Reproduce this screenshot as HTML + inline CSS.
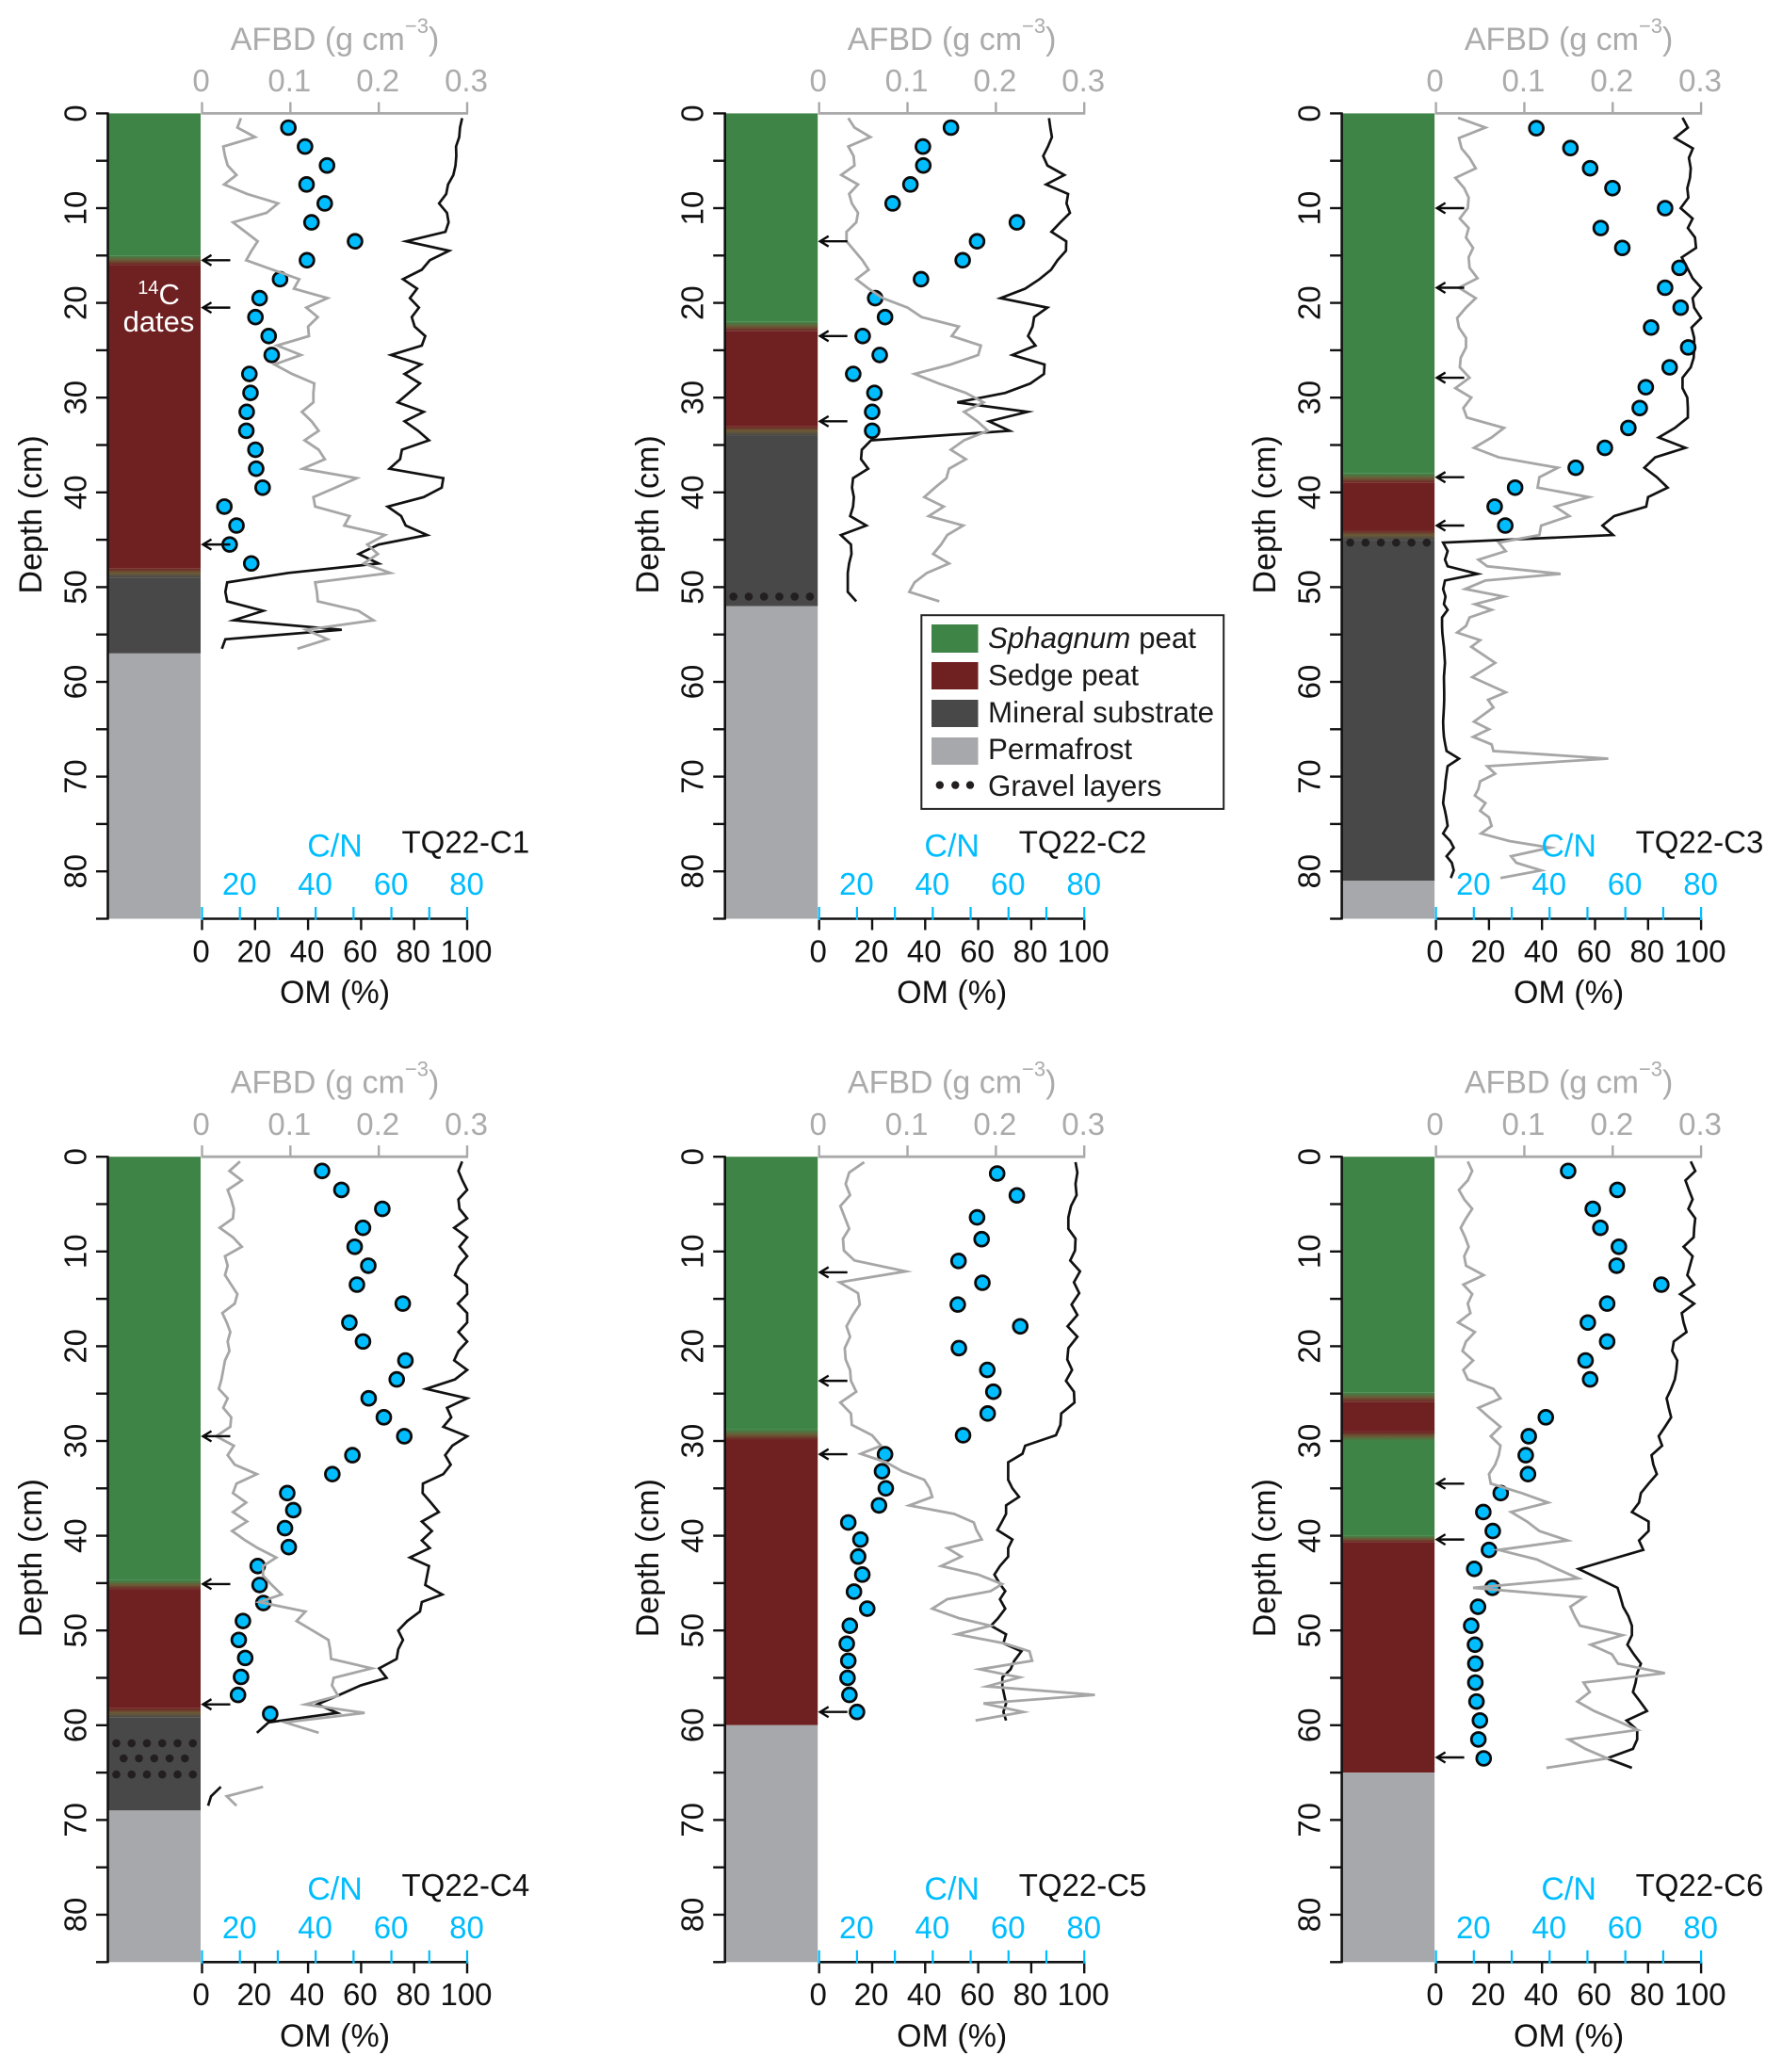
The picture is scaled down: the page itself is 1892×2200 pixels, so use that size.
<!DOCTYPE html>
<html lang="en">
<head>
<meta charset="utf-8">
<title>Peat core profiles TQ22-C1 to TQ22-C6</title>
<style>
html,body{margin:0;padding:0;background:#fff;}
svg{display:block;font-family:"Liberation Sans",sans-serif;font-size:33px;}
.afbd-title{fill:#ababab;text-anchor:middle;font-size:34px;}
.cn-title{fill:#00bdff;text-anchor:middle;font-size:34px;}
.om-title{fill:#111;text-anchor:middle;font-size:34px;}
.depth-title{fill:#111;text-anchor:middle;font-size:34px;}
.core-name{fill:#111;}
.legend-text{font-size:31.3px;fill:#1a1a1a;}
</style>
</head>
<body>
<svg id="chart" width="1892" height="2200" viewBox="0 0 1892 2200" xmlns="http://www.w3.org/2000/svg">
  <g id="panel-c1" transform="translate(214.5,120.4)">
    <g class="marks"></g>
    <text class="afbd-title" x="141" y="-67.5">AFBD (g cm<tspan dy="-18" font-size="22">−3</tspan><tspan dy="18">)</tspan></text>
    <text class="cn-title" x="141" y="789">C/N</text>
    <text class="core-name" x="212" y="785">TQ22-C1</text>
    <text class="om-title" x="141" y="944.6">OM (%)</text>
    <text class="depth-title" transform="translate(-170.5,426) rotate(-90)">Depth (cm)</text>
    <text x="-46" y="202.6" fill="#fff" font-size="31" text-anchor="middle"><tspan font-size="20" dy="-11">14</tspan><tspan dy="11">C</tspan></text>
    <text x="-46" y="231.4" fill="#fff" font-size="31" text-anchor="middle">dates</text>
  </g>
  <g id="panel-c2" transform="translate(869.7,120.4)">
    <g class="marks"></g>
    <text class="afbd-title" x="141" y="-67.5">AFBD (g cm<tspan dy="-18" font-size="22">−3</tspan><tspan dy="18">)</tspan></text>
    <text class="cn-title" x="141" y="789">C/N</text>
    <text class="core-name" x="212" y="785">TQ22-C2</text>
    <text class="om-title" x="141" y="944.6">OM (%)</text>
    <text class="depth-title" transform="translate(-170.5,426) rotate(-90)">Depth (cm)</text>
  </g>
  <g id="panel-c3" transform="translate(1524.6,120.4)">
    <g class="marks"></g>
    <text class="afbd-title" x="141" y="-67.5">AFBD (g cm<tspan dy="-18" font-size="22">−3</tspan><tspan dy="18">)</tspan></text>
    <text class="cn-title" x="141" y="789">C/N</text>
    <text class="core-name" x="212" y="785">TQ22-C3</text>
    <text class="om-title" x="141" y="944.6">OM (%)</text>
    <text class="depth-title" transform="translate(-170.5,426) rotate(-90)">Depth (cm)</text>
  </g>
  <g id="panel-c4" transform="translate(214.5,1228.2)">
    <g class="marks"></g>
    <text class="afbd-title" x="141" y="-67.5">AFBD (g cm<tspan dy="-18" font-size="22">−3</tspan><tspan dy="18">)</tspan></text>
    <text class="cn-title" x="141" y="789">C/N</text>
    <text class="core-name" x="212" y="785">TQ22-C4</text>
    <text class="om-title" x="141" y="944.6">OM (%)</text>
    <text class="depth-title" transform="translate(-170.5,426) rotate(-90)">Depth (cm)</text>
  </g>
  <g id="panel-c5" transform="translate(869.7,1228.2)">
    <g class="marks"></g>
    <text class="afbd-title" x="141" y="-67.5">AFBD (g cm<tspan dy="-18" font-size="22">−3</tspan><tspan dy="18">)</tspan></text>
    <text class="cn-title" x="141" y="789">C/N</text>
    <text class="core-name" x="212" y="785">TQ22-C5</text>
    <text class="om-title" x="141" y="944.6">OM (%)</text>
    <text class="depth-title" transform="translate(-170.5,426) rotate(-90)">Depth (cm)</text>
  </g>
  <g id="panel-c6" transform="translate(1524.6,1228.2)">
    <g class="marks"></g>
    <text class="afbd-title" x="141" y="-67.5">AFBD (g cm<tspan dy="-18" font-size="22">−3</tspan><tspan dy="18">)</tspan></text>
    <text class="cn-title" x="141" y="789">C/N</text>
    <text class="core-name" x="212" y="785">TQ22-C6</text>
    <text class="om-title" x="141" y="944.6">OM (%)</text>
    <text class="depth-title" transform="translate(-170.5,426) rotate(-90)">Depth (cm)</text>
  </g>
  <g id="legend">
    <rect x="978.3" y="653.2" width="320.9" height="205.7" fill="#fff" stroke="#222" stroke-width="2"/>
    <rect x="989" y="663" width="49.5" height="30" fill="#3f8447"/>
    <text class="legend-text" x="1049" y="688"><tspan font-style="italic">Sphagnum</tspan> peat</text>
    <rect x="989" y="703" width="49.5" height="29" fill="#6f2122"/>
    <text class="legend-text" x="1049" y="727.5">Sedge peat</text>
    <rect x="989" y="743" width="49.5" height="29" fill="#484848"/>
    <text class="legend-text" x="1049" y="767">Mineral substrate</text>
    <rect x="989" y="783" width="49.5" height="29" fill="#a7a8ab"/>
    <text class="legend-text" x="1049" y="806">Permafrost</text>
    <circle cx="997.8" cy="833.6" r="4.2" fill="#231f20"/>
    <circle cx="1014.3" cy="833.6" r="4.2" fill="#231f20"/>
    <circle cx="1030" cy="833.6" r="4.2" fill="#231f20"/>
    <text class="legend-text" x="1049" y="845">Gravel layers</text>
  </g>
</svg>
<script>
// ---- axis tick values ----
const depthTicks=[0,5,10,15,20,25,30,35,40,45,50,55,60,65,70,75,80,85];
const depthLabels=[0,10,20,30,40,50,60,70,80];
const omTicks=[0,20,40,60,80,100];
const afbdTicks=[0,0.1,0.2,0.3];
const afbdLabels=['0','0.1','0.2','0.3'];
const cnTicks=[10,20,30,40,50,60,70,80];
const cnLabels=[20,40,60,80];

// ---- TQ22-C1 ----
const c1Depth=[0.5,1.5,2.5,3.5,4.5,5.5,6.5,7.5,8.5,9.5,10.5,11.5,12.5,13.5,14.5,15.5,16.5,17.5,18.5,19.5,20.5,21.5,22.5,23.5,24.5,25.5,26.5,27.5,28.5,29.5,30.5,31.5,32.5,33.5,34.5,35.5,36.5,37.5,38.5,39.5,40.5,41.5,42.5,43.5,44.5,45.5,46.5,47.5,48.5,49.5,50.5,51.5,52.5,53.5,54.5,55.5,56.5];
const c1OM=[98.1,97.3,97,95.8,95.9,95.6,94.8,92.8,92.1,89.4,92.4,93,91.8,77,93.2,85.9,82.9,75.8,81.1,78.4,81.8,79.1,80.2,84.2,82.9,71.3,82.6,76.4,82.2,78,73.8,83.6,76.4,81.5,85.6,75.4,74.7,70.7,91,90.4,83.6,70,75.1,76.8,84.9,66.6,59.1,66.6,32.6,9.5,8.8,9.5,23.1,12,52.7,8.8,7.5];
const c1AFBD=[.044,.040,.060,.024,.026,.029,.039,.025,.051,.086,.073,.035,.049,.063,.056,.050,.080,.110,.104,.142,.118,.131,.120,.121,.085,.112,.082,.102,.127,.126,.126,.113,.124,.132,.116,.132,.139,.114,.175,.151,.126,.128,.167,.161,.207,.187,.199,.183,.213,.128,.130,.131,.177,.194,.118,.142,.108];
const c1CNDepth=[1.5,3.5,5.5,7.5,9.5,11.5,13.5,15.5,17.5,19.5,21.5,23.5,25.5,27.5,29.5,31.5,33.5,35.5,37.5,39.5,41.5,43.5,45.5,47.5];
const c1CN=[32.8,37.2,43,37.6,42.4,38.9,50.4,37.7,30.6,25.2,24.1,27.6,28.4,22.5,22.8,21.8,21.7,24.1,24.3,26,15.9,19.1,17.3,23];
const c1Dates=[15.5,20.5,45.5];
const c1LayerType=['sphagnum','sedge','mineral','permafrost'];
const c1LayerTop=[0,16,49,57];
const c1LayerBottom=[15,48,57,85];
const c1GravelDepth=[];

// ---- TQ22-C2 ----
const c2Depth=[0.5,1.5,2.5,3.5,4.5,5.5,6.5,7.5,8.5,9.5,10.5,11.5,12.5,13.5,14.5,15.5,16.5,17.5,18.5,19.5,20.5,21.5,22.5,23.5,24.5,25.5,26.5,27.5,28.5,29.5,30.5,31.5,32.5,33.5,34.5,35.5,36.5,37.5,38.5,39.5,40.5,41.5,42.5,43.5,44.5,45.5,46.5,47.5,48.5,49.5,50.5,51.5];
const c2OM=[86.7,87.2,87.8,86.3,84.5,86.1,92.5,85.6,93.9,93.3,94.6,91,87.6,93.2,93.1,89.9,87.5,83.1,77.7,68.4,86.1,81.1,80.5,78.8,81.6,72.9,85,84.8,79.7,70.2,52.1,78.6,64.1,71.8,19.6,16.1,15.8,18.5,12.8,12.4,13.1,12.8,11.7,17.8,8.2,12,12.2,11.3,10.8,10.8,10.8,14];
const c2AFBD=[.033,.040,.058,.033,.039,.040,.025,.044,.034,.037,.044,.042,.031,.031,.040,.049,.056,.042,.056,.072,.100,.116,.158,.150,.183,.180,.149,.108,.135,.166,.186,.164,.179,.191,.164,.149,.166,.147,.144,.131,.119,.141,.124,.163,.145,.138,.129,.147,.122,.108,.102,.136];
const c2CNDepth=[1.5,3.5,5.5,7.5,9.5,11.5,13.5,15.5,17.5,19.5,21.5,23.5,25.5,27.5,29.5,31.5,33.5];
const c2CN=[44.8,37.4,37.5,34.1,29.4,62.2,51.7,47.9,36.9,24.8,27.4,21.5,26,19,24.6,24,24];
const c2Dates=[13.5,23.5,32.5];
const c2LayerType=['sphagnum','sedge','mineral','permafrost'];
const c2LayerTop=[0,23,34,52];
const c2LayerBottom=[22,33,52,85];
const c2GravelDepth=[51];

// ---- TQ22-C3 ----
const c3Depth=[0.46,1.5,2.6,3.7,4.7,5.8,6.8,7.9,8.9,10,11.1,12.1,13.1,14.2,15.2,16.3,17.4,18.4,19.5,20.5,21.6,22.6,23.7,24.7,25.8,26.8,27.9,29,30,31.1,32.1,33.2,34.2,35.3,36.3,37.4,38.4,39.5,40.5,41.5,42.5,43.5,44.5,45.3,46.2,47.1,47.8,48.6,49.3,50.2,51,51.8,52.4,53.2,54.1,54.8,55.6,56.3,58,59.5,61.1,61.9,62.7,64.2,65,65.8,66.6,67.3,68.1,68.9,69.7,70.5,71.3,72,72.8,73.6,74.3,75.2,76,76.8,77.5,78.4,79.1,79.9,80.7];
const c3OM=[93,95,90.1,96.9,95.4,96.1,95.8,94.8,95.2,92.3,96.8,95,97.7,98.1,92.7,94.8,96.8,100,96.8,97.4,100,96.4,97.4,97.4,97.2,96.1,93,93,94.8,95,95,90.1,84,94.1,82.7,78.6,83.3,87.4,80,79.3,67.2,62.8,66.8,2.7,4.4,3.4,4.4,15.7,3.4,2.7,3.6,3,4.4,2.3,2.3,2.4,2.7,3,3.4,3,3.1,3.1,3,2.7,2.8,3,3.5,4,8.7,4.4,4,3.6,3.4,3,2.7,3.4,3.9,4.4,2.7,5.4,6.7,4,6,6.7,5.6];
const c3AFBD=[.025,.056,.026,.029,.038,.045,.022,.032,.037,.036,.027,.037,.034,.042,.037,.038,.047,.026,.045,.034,.024,.026,.034,.034,.028,.027,.038,.022,.040,.031,.035,.077,.063,.043,.071,.138,.117,.115,.173,.135,.151,.119,.117,.071,.079,.048,.058,.141,.056,.033,.077,.044,.063,.038,.034,.024,.050,.040,.067,.041,.079,.059,.065,.043,.060,.042,.063,.065,.195,.058,.067,.050,.048,.044,.056,.050,.060,.063,.051,.083,.129,.085,.091,.119,.073];
const c3CNDepth=[1.56,3.66,5.79,7.89,10,12.1,14.2,16.3,18.4,20.5,22.6,24.7,26.8,28.9,31.1,33.2,35.3,37.4,39.5,41.5,43.5];
const c3CN=[36.5,45.5,50.7,56.6,70.5,53.5,59.2,74.3,70.5,74.6,66.8,76.6,71.7,65.4,63.8,60.8,54.6,46.9,30.9,25.5,28.3];
const c3Dates=[10,18.4,27.9,38.4,43.5];
const c3LayerType=['sphagnum','sedge','mineral','permafrost'];
const c3LayerTop=[0,39,45,81];
const c3LayerBottom=[38,44,81,85];
const c3GravelDepth=[45.3];

// ---- TQ22-C4 ----
const c4Depth=[0.5,1.5,2.5,3.5,4.5,5.5,6.5,7.5,8.5,9.5,10.5,11.5,12.5,13.5,14.5,15.5,16.5,17.5,18.5,19.5,20.5,21.5,22.5,23.5,24.5,25.5,26.5,27.5,28.5,29.5,30.5,31.5,32.5,33.5,34.5,35.5,36.5,37.5,38.5,39.5,40.5,41.3,42.3,43.2,44.2,45.2,46.2,47,48,49,50,51,52,53,54,55,55.8,56.9,57.8,58.7,59.7,60.8,63,66.5,67.5,68.5];
const c4OM=[98.1,96.7,98.2,100,96.7,97.1,100,95.1,100,97.1,100,96.9,95.4,99.9,100,96.5,100,100,96.7,100,96.7,95.1,100,95.4,84.5,100,92.4,94,91,100,94.4,91.7,93.8,91,83.3,83.2,86.3,89.3,82.9,86.7,82.9,85.9,78.4,85.6,84.9,84.2,90.6,82.9,82.2,77.4,74,75.8,74,73.4,66.8,69.6,59.8,51,43.5,51,25.1,20.7,null,7.1,3.4,2.3];
const c4AFBD=[.043,.031,.045,.029,.033,.036,.035,.020,.035,.045,.026,.029,.026,.033,.040,.037,.023,.028,.032,.029,.031,.026,.024,.022,.019,.029,.024,.033,.032,.016,.036,.029,.037,.062,.039,.035,.050,.035,.051,.034,.049,.063,.084,.069,.069,.079,.090,.065,.117,.107,.125,.143,.145,.146,.192,.149,.147,.154,.117,.184,.094,.132,null,.069,.028,.039];
const c4CNDepth=[1.5,3.5,5.5,7.5,9.5,11.5,13.5,15.5,17.5,19.5,21.5,23.5,25.5,27.5,29.5,31.5,33.5,35.5,37.3,39.2,41.2,43.2,45.2,47.1,49,51,52.9,54.9,56.8,58.8];
const c4CN=[41.7,46.8,57.6,52.5,50.3,53.9,50.9,63,48.9,52.5,63.7,61.4,54,58,63.4,49.7,44.4,32.5,34.1,31.9,32.9,24.7,25.2,26.2,20.8,19.7,21.4,20.3,19.5,28];
const c4Dates=[29.5,45.1,57.8];
const c4LayerType=['sphagnum','sedge','mineral','permafrost'];
const c4LayerTop=[0,45.7,59.2,69];
const c4LayerBottom=[44.7,58.2,69,85];
const c4GravelDepth=[61.9,63.5,65.2];

// ---- TQ22-C5 ----
const c5Depth=[0.57,1.67,2.87,4.05,5.2,6.4,7.6,8.65,9.9,10.95,12.1,13.25,14.4,15.6,16.7,17.9,19,20.2,21.4,22.5,23.65,24.8,25.95,27.1,28.3,29.4,30.5,31.35,32.25,33.2,34.1,35,35.9,36.8,37.7,38.6,39.4,40.4,41.3,42.2,43.2,44.1,45.1,45.85,46.7,47.7,48.7,49.5,50.4,51.35,52.2,53.2,54.1,54.95,55.9,56.8,57.7,58.6,59.5];
const c5OM=[96.7,97.4,96.7,97.1,95,94,94,96.7,96.5,94.7,98.4,96.1,98.1,95.2,97.4,93.7,97.4,94,93.6,95.4,93.1,96.1,96.3,91.3,91,89.3,77.7,76.7,71.3,71.3,71.3,72.9,75.4,70.5,70.5,68.8,67.2,72.9,71.3,71.3,68.2,66.1,68.2,70.2,68.2,70.2,67.5,64.8,70.5,69.5,76.3,73.6,72.2,69.1,69.1,69.8,70.5,69.5,70.5];
const c5AFBD=[.051,.034,.030,.035,.024,.029,.034,.027,.028,.040,.098,.023,.044,.046,.038,.031,.035,.029,.030,.035,.036,.042,.024,.036,.037,.060,.070,.047,.076,.094,.119,.125,.128,.102,.153,.175,.178,.184,.145,.161,.138,.180,.207,.194,.145,.128,.158,.194,.156,.209,.238,.241,.182,.227,.190,.312,.186,.231,.177];
const c5CNDepth=[1.77,4.08,6.4,8.7,11,13.3,15.6,17.9,20.2,22.5,24.8,27.1,29.4,31.4,33.2,35,36.8,38.6,40.4,42.2,44.1,45.9,47.7,49.5,51.4,53.2,55,56.8,58.6];
const c5CN=[57,62.2,51.7,52.9,46.8,53.1,46.6,63.1,46.9,54.4,56,54.5,48,27.4,26.6,27.6,25.8,17.7,20.9,20.3,21.4,19.2,22.7,18.1,17.3,17.7,17.5,18,20];
const c5Dates=[12.2,23.65,31.4,58.6];
const c5LayerType=['sphagnum','sedge','permafrost'];
const c5LayerTop=[0,29.9,60];
const c5LayerBottom=[28.8,60,85];
const c5GravelDepth=[];

// ---- TQ22-C6 ----
const c6Depth=[0.5,1.5,2.5,3.5,4.5,5.5,6.5,7.5,8.5,9.5,10.5,11.5,12.5,13.5,14.5,15.5,16.5,17.5,18.5,19.5,20.5,21.5,22.5,23.5,24.5,25.5,26.5,27.5,28.5,29.5,30.5,31.5,32.5,33.5,34.5,35.5,36.5,37.5,38.5,39.5,40.5,41.5,42.5,43.5,44.5,45.5,46.5,47.5,48.5,49.5,50.5,51.5,52.5,53.5,54.5,55.5,56.5,57.5,58.5,59.5,60.5,61.5,62.5,63.5,64.5];
const c6OM=[96.1,97.8,94.1,95.4,96.8,95.2,97.8,97.4,97.2,93.4,96.8,95.8,94.8,97.4,92.1,97.4,92.7,93.4,94.5,89.7,89.1,91,90.7,90.1,88.7,87,87.8,88.7,86.4,84,85.3,81.3,82,83.3,80.2,77.3,76.6,73.9,80.2,80.2,76.6,78.2,65.9,53.8,61.2,68.5,69.6,70.6,72.6,73.9,73.9,72.2,74.6,77.3,75.9,75.3,74.3,77,79.6,71.9,75.9,75.9,74.3,64.5,73.9];
const c6AFBD=[.036,.041,.036,.026,.032,.041,.034,.028,.033,.037,.032,.034,.054,.031,.041,.036,.039,.025,.044,.034,.030,.042,.031,.036,.065,.073,.048,.060,.073,.062,.073,.071,.067,.060,.062,.097,.127,.085,.103,.117,.149,.071,.114,.137,.161,.042,.168,.152,.157,.163,.211,.175,.199,.206,.259,.167,.174,.160,.179,.204,.228,.150,.169,.194,.125];
const c6CNDepth=[1.5,3.5,5.5,7.5,9.5,11.5,13.5,15.5,17.5,19.5,21.5,23.5,27.5,29.5,31.5,33.5,35.5,37.5,39.5,41.5,43.5,45.5,47.5,49.5,51.5,53.5,55.5,57.5,59.5,61.5,63.5];
const c6CN=[44.9,57.9,51.4,53.4,58.3,57.7,69.5,55.2,50.1,55.2,49.5,50.7,39,34.5,33.7,34.3,27.1,22.5,25,24,20.1,24.9,21.1,19.3,20.3,20.4,20.4,20.7,21.6,21.2,22.6];
const c6Dates=[34.5,40.4,63.4];
const c6LayerType=['sphagnum','sedge','sphagnum','sedge','permafrost'];
const c6LayerTop=[0,25.9,30,40.7,65];
const c6LayerBottom=[24.9,29,40,65,85];
const c6GravelDepth=[];

const cores=[
 {id:'c1',depth:c1Depth,om:c1OM,afbd:c1AFBD,cnDepth:c1CNDepth,cn:c1CN,dates:c1Dates,type:c1LayerType,top:c1LayerTop,bottom:c1LayerBottom,gravel:c1GravelDepth},
 {id:'c2',depth:c2Depth,om:c2OM,afbd:c2AFBD,cnDepth:c2CNDepth,cn:c2CN,dates:c2Dates,type:c2LayerType,top:c2LayerTop,bottom:c2LayerBottom,gravel:c2GravelDepth},
 {id:'c3',depth:c3Depth,om:c3OM,afbd:c3AFBD,cnDepth:c3CNDepth,cn:c3CN,dates:c3Dates,type:c3LayerType,top:c3LayerTop,bottom:c3LayerBottom,gravel:c3GravelDepth},
 {id:'c4',depth:c4Depth,om:c4OM,afbd:c4AFBD,cnDepth:c4CNDepth,cn:c4CN,dates:c4Dates,type:c4LayerType,top:c4LayerTop,bottom:c4LayerBottom,gravel:c4GravelDepth},
 {id:'c5',depth:c5Depth,om:c5OM,afbd:c5AFBD,cnDepth:c5CNDepth,cn:c5CN,dates:c5Dates,type:c5LayerType,top:c5LayerTop,bottom:c5LayerBottom,gravel:c5GravelDepth},
 {id:'c6',depth:c6Depth,om:c6OM,afbd:c6AFBD,cnDepth:c6CNDepth,cn:c6CN,dates:c6Dates,type:c6LayerType,top:c6LayerTop,bottom:c6LayerBottom,gravel:c6GravelDepth}
];

// ---- scales and styling ----
const SVGNS='http://www.w3.org/2000/svg';
const W=281.5, LEFT=-100, PXCM=10.06;
const COLORS={sphagnum:'#3f8447',sedge:'#6f2122',mineral:'#484848',permafrost:'#a7a8ab'};
const CN_BLUE='#00bdff', GREY='#a9a9a9', BLACK='#111';
const yD=d=>d*PXCM;
const xOM=v=>v/100*W;
const xAFBD=v=>v/0.3*W;
const xCN=v=>(v-10)/70*W;
function make(tag,attrs,parent){
  const e=document.createElementNS(SVGNS,tag);
  for(const k in attrs)e.setAttribute(k,attrs[k]);
  parent.appendChild(e);
  return e;
}
function pathFrom(depths,values,xf){
  let d='',pen=false;
  const n=Math.min(depths.length,values.length);
  for(let i=0;i<n;i++){
    if(values[i]===null){pen=false;continue;}
    d+=(pen?'L':'M')+xf(values[i]).toFixed(2)+' '+yD(depths[i]).toFixed(2);
    pen=true;
  }
  return d;
}
const defs=make('defs',{},document.getElementById('chart'));
let gradN=0;
function gradient(a,b){
  const id='grad'+(gradN++);
  const g=make('linearGradient',{id:id,x1:0,y1:0,x2:0,y2:1},defs);
  make('stop',{offset:'0',  'stop-color':a},g);
  make('stop',{offset:'0.5','stop-color':'#6b5a36'},g);
  make('stop',{offset:'1',  'stop-color':b},g);
  return id;
}

function drawLayers(c,m){
  for(let i=0;i<c.type.length;i++){
    const r=make('rect',{x:LEFT,y:yD(c.top[i]),width:-LEFT-1.5,height:yD(c.bottom[i])-yD(c.top[i]),fill:COLORS[c.type[i]]},m);
    
    
    if(i<c.type.length-1 && c.bottom[i]<c.top[i+1]){
      const t=make('rect',{x:LEFT,y:yD(c.bottom[i]),width:-LEFT-1.5,height:yD(c.top[i+1])-yD(c.bottom[i]),fill:'url(#'+gradient(COLORS[c.type[i]],COLORS[c.type[i+1]])+')'},m);
      
      
    }
  }
}
function drawGravel(c,m){
  c.gravel.forEach((d,row)=>{
    const staggered=c.gravel.length>1 && row%2===1;
    const count=staggered?5:6;
    for(let k=0;k<count;k++){
      const dot=make('circle',{cx:LEFT+(staggered?16.8:9)+k*16.25,cy:yD(d),r:4.3,fill:'#231f20'},m);
      
      
    }
  });
}
function drawAxes(m){
  // depth axis
  const dAxis=make('line',{x1:LEFT,x2:LEFT,y1:yD(0)-1,y2:yD(85)+1,stroke:BLACK,'stroke-width':2.6},m);
  
  
  depthTicks.forEach(t=>{
    const tk=make('line',{x1:LEFT-12.5,x2:LEFT,y1:yD(t),y2:yD(t),stroke:BLACK,'stroke-width':2.4},m);
    
    
  });
  depthLabels.forEach(t=>{
    const lb=make('text',{transform:'translate('+(LEFT-23)+','+yD(t)+') rotate(-90)','text-anchor':'middle',fill:BLACK},m);
    lb.textContent=String(t);
    
    
  });
  // AFBD axis (top)
  const aAxis=make('line',{x1:-1,x2:W+1,y1:0,y2:0,stroke:GREY,'stroke-width':2.8},m);
  
  
  afbdTicks.forEach((t,i)=>{
    const tk=make('line',{x1:xAFBD(t),x2:xAFBD(t),y1:0,y2:-12,stroke:GREY,'stroke-width':2.4},m);
    
    
    const lb=make('text',{x:xAFBD(t)-1,y:-23.3,'text-anchor':'middle',fill:'#ababab'},m);
    lb.textContent=afbdLabels[i];
    
    
  });
  // OM axis (bottom)
  const oAxis=make('line',{x1:-1,x2:W+1,y1:yD(85),y2:yD(85),stroke:BLACK,'stroke-width':2.6},m);
  
  
  omTicks.forEach(t=>{
    const tk=make('line',{x1:xOM(t),x2:xOM(t),y1:yD(85),y2:yD(85)+12,stroke:BLACK,'stroke-width':2.4},m);
    
    
    const lb=make('text',{x:xOM(t)-1,y:901,'text-anchor':'middle',fill:BLACK},m);
    lb.textContent=String(t);
    
    
  });
  // C/N axis (shares bottom line)
  cnTicks.forEach(t=>{
    const tk=make('line',{x1:xCN(t),x2:xCN(t),y1:yD(85)-12.5,y2:yD(85)+1.5,stroke:CN_BLUE,'stroke-width':2.2},m);
    
    
  });
  cnLabels.forEach(t=>{
    const lb=make('text',{x:xCN(t)-0.5,y:829.6,'text-anchor':'middle',fill:CN_BLUE},m);
    lb.textContent=String(t);
    
    
  });
}
function drawSeries(c,m){
  const om=make('path',{d:pathFrom(c.depth,c.om,xOM),fill:'none',stroke:BLACK,'stroke-width':2.7,'stroke-linejoin':'miter','stroke-miterlimit':6},m);
  
  
  const n=Math.min(c.cnDepth.length,c.cn.length);
  for(let i=0;i<n;i++){
    const pt=make('circle',{cx:xCN(c.cn[i]),cy:yD(c.cnDepth[i]),r:7.4,fill:CN_BLUE,stroke:'#0a0a0a','stroke-width':2.8},m);
    
    
  }
  const af=make('path',{d:pathFrom(c.depth,c.afbd,xAFBD),fill:'none',stroke:'#a6a6a6','stroke-width':2.8,'stroke-linejoin':'miter','stroke-miterlimit':6},m);
  
  
  c.dates.forEach(d=>{
    const y=yD(d);
    const ar=make('path',{d:'M30 '+y+'H1M10 '+(y-5.5)+'L1 '+y+'L10 '+(y+5.5),fill:'none',stroke:'#0a0a0a','stroke-width':2.4},m);
    
    
  });
}
cores.forEach(c=>{
  const m=document.querySelector('#panel-'+c.id+' .marks');
  drawLayers(c,m);
  drawGravel(c,m);
  drawAxes(m);
  drawSeries(c,m);
});
</script>
</body>
</html>
